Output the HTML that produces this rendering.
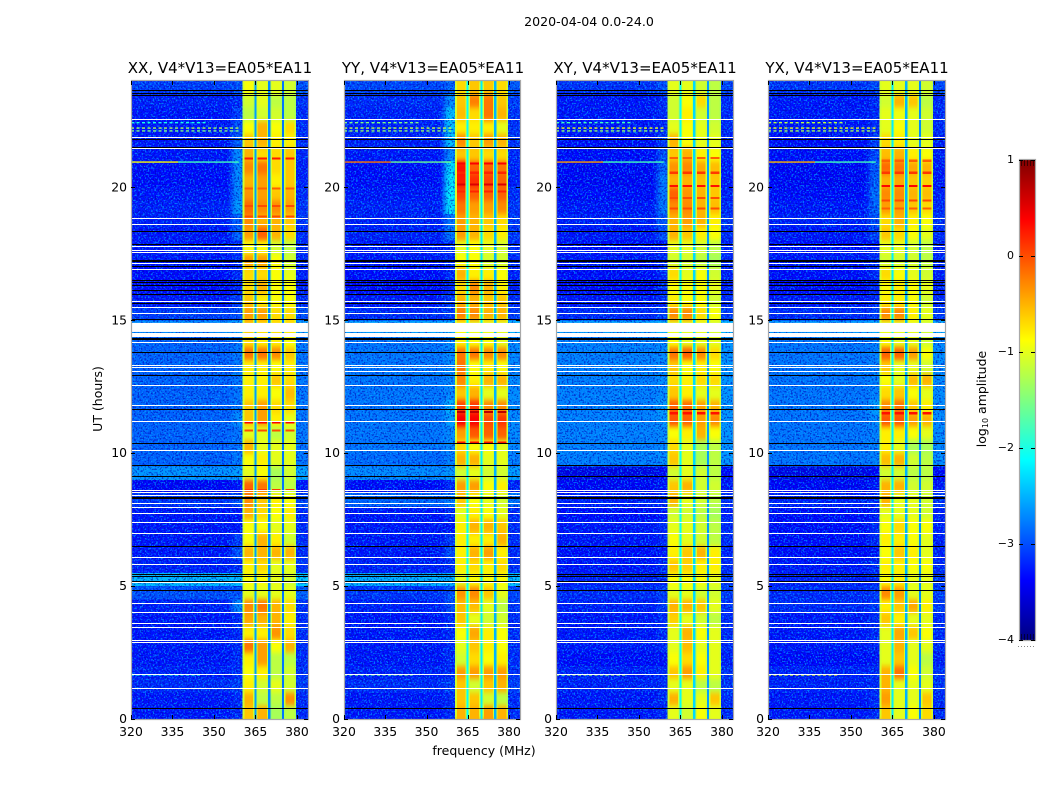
<!DOCTYPE html>
<html lang="en">
<head>
<meta charset="utf-8">
<title>2020-04-04 0.0-24.0</title>
<style>
html,body{margin:0;padding:0;background:#fff;width:1050px;height:800px;overflow:hidden}
svg{display:block}
text{font-family:"DejaVu Sans","Liberation Sans",sans-serif;fill:#000}
</style>
</head>
<body>
<svg id="figure" xmlns="http://www.w3.org/2000/svg" width="1050" height="800" viewBox="0 0 1050 800">
  <defs>
    <filter id="speck-light" x="0" y="0" width="100%" height="100%" color-interpolation-filters="sRGB">
      <feTurbulence type="fractalNoise" baseFrequency="0.62" numOctaves="1" seed="7"/>
      <feColorMatrix type="matrix" values="0 0 0 0 0  0 0 0 0 0.68  0 0 0 0 1  8 0 0 0 -4.2"/>
    </filter>
    <filter id="speck-dark" x="0" y="0" width="100%" height="100%" color-interpolation-filters="sRGB">
      <feTurbulence type="fractalNoise" baseFrequency="0.58" numOctaves="1" seed="23"/>
      <feColorMatrix type="matrix" values="0 0 0 0 0  0 0 0 0 0  0 0 0 0 0.7  0 8 0 0 -4.2"/>
    </filter>
    <filter id="blur-vertical" x="-5%" y="-5%" width="110%" height="110%" color-interpolation-filters="sRGB">
      <feGaussianBlur stdDeviation="0.2 2.6"/>
    </filter>
    <filter id="blur-horizontal" x="-30%" y="-5%" width="160%" height="110%" color-interpolation-filters="sRGB">
      <feGaussianBlur stdDeviation="3 0.3"/>
    </filter>
    <linearGradient id="jet-gradient" x1="0" y1="1" x2="0" y2="0"></linearGradient>
  </defs>
  <rect x="0" y="0" width="1050" height="800" fill="#fff"/>
  <g id="panels"></g>
  <text x="589" y="26" font-size="12.6" text-anchor="middle">2020-04-04 0.0-24.0</text>
  <text x="220" y="73" font-size="15" text-anchor="middle">XX, V4*V13=EA05*EA11</text>
  <text x="433" y="73" font-size="15" text-anchor="middle">YY, V4*V13=EA05*EA11</text>
  <text x="645" y="73" font-size="15" text-anchor="middle">XY, V4*V13=EA05*EA11</text>
  <text x="857" y="73" font-size="15" text-anchor="middle">YX, V4*V13=EA05*EA11</text>
  <text transform="translate(102,399) rotate(-90)" font-size="12.5" text-anchor="middle">UT (hours)</text>
  <text x="484" y="755" font-size="12.5" text-anchor="middle">frequency (MHz)</text>
  <text transform="translate(986,399) rotate(-90)" font-size="12.5" text-anchor="middle">log<tspan font-size="8" dy="2">10</tspan><tspan dy="-2"> amplitude</tspan></text>
  <g id="colorbar"></g>
</svg>
<script>
// ---- axis tick labels ----
const freqTicks = [320, 335, 350, 365, 380];
const utTicks = [0, 5, 10, 15, 20];
const colorTicks = [1, 0, -1, -2, -3, -4];
const colorTickLabels = ["1", "0", "\u22121", "\u22122", "\u22123", "\u22124"];

// ---- frequency layout of the spectrogram (MHz) ----
const bandStart = [360.4, 365.2, 370.3, 375.3];
const bandEnd = [364.7, 369.7, 374.7, 379.7];
const gapStart = [364.6, 369.6, 374.6];
const gapEnd = [365.3, 370.4, 375.4];

// ---- flagged integrations, UT hours (shared by all panels) ----
const whiteRows = [22.58, 21.91, 21.48, 18.84, 18.63, 17.81, 17.66, 17.57, 17.14, 16.92, 15.73, 15.49, 15.29, 14.17, 13.33, 13.23, 13.08, 12.58, 11.80, 11.20, 10.13, 8.63, 8.53, 8.44, 8.11, 7.99, 7.75, 7.40, 6.99, 6.08, 5.84, 5.14, 4.35, 4.01, 3.61, 3.47, 2.98, 2.89, 1.70, 1.16];
const whiteSpanFrom = [14.56, 14.37];
const whiteSpanTo = [14.90, 14.52];
const blackRows = [23.65, 23.53, 23.49, 21.81, 21.51, 18.35, 17.88, 17.27, 17.22, 17.03, 16.52, 16.44, 16.32, 16.15, 16.0, 15.64, 15.06, 14.33, 14.28, 13.80, 12.93, 11.67, 10.38, 9.54, 9.13, 8.35, 8.30, 6.50, 5.47, 5.37, 5.20, 4.84, 0.40];

// ---- narrow-band RFI rows ----
const rfiT = [20.95, 20.95, 22.43, 22.23, 22.12, 1.66];
const rfiFrom = [320, 337, 320, 320, 320, 320];
const rfiTo = [337, 359, 348, 359, 359, 345];
const xxRfi = [-0.9, -1.8, -2.0, -1.3, -1.5, -2.0];
const yyRfi = [-0.2, -1.6, -1.5, -1.2, -1.4, -1.6];
const xyRfi = [-0.4, -1.8, -1.8, -1.0, -1.4, -1.4];
const yxRfi = [-0.5, -1.8, -1.2, -1.0, -1.3, -1.0];

// ---- log10 amplitude in half-hour bins, index 0 = 0.0-0.5 UT ----
const xxBackground = [-3.1,-3.1,-3.0,-3.05,-3.1,-3.1,-3.1,-3.1,-3.05,-2.8,-2.25,-3.05,-3.1,-3.1,-3.1,-3.1,-2.95,-3.2,-2.45,-2.7,-2.7,-2.7,-2.7,-2.7,-2.7,-2.7,-2.7,-2.7,-2.7,-2.5,-2.9,-3.1,-3.15,-3.15,-3.1,-3.1,-3.1,-3.05,-3.05,-3.1,-3.15,-3.15,-3.1,-3.1,-3.1,-3.1,-3.05,-2.9];
const yyBackground = [-3.1,-3.1,-3.0,-3.05,-3.1,-3.1,-3.1,-3.1,-3.05,-2.95,-2.3,-3.05,-3.1,-3.1,-3.1,-3.1,-2.7,-3.15,-2.5,-2.65,-2.6,-2.6,-2.6,-2.6,-2.6,-2.6,-2.6,-2.6,-2.6,-2.4,-3.0,-3.1,-3.15,-3.15,-3.1,-3.1,-3.05,-3.05,-3.05,-3.1,-3.15,-3.15,-3.1,-3.05,-3.05,-3.05,-3.0,-2.85];
const xyBackground = [-3.1,-3.1,-3.05,-3.05,-3.15,-3.1,-3.1,-3.1,-3.05,-3.0,-3.05,-3.1,-3.15,-3.1,-3.1,-3.15,-3.05,-3.2,-3.3,-2.55,-2.55,-2.55,-2.55,-2.55,-2.55,-2.55,-2.55,-2.55,-2.55,-2.4,-3.0,-3.1,-3.15,-3.15,-3.1,-3.15,-3.1,-3.05,-3.1,-3.15,-3.2,-3.2,-3.15,-3.15,-3.1,-3.1,-3.1,-2.95];
const yxBackground = [-3.1,-3.1,-3.05,-3.05,-3.15,-3.1,-3.1,-3.1,-3.0,-3.0,-3.05,-3.1,-3.15,-3.15,-3.15,-3.15,-3.05,-3.2,-3.3,-2.6,-2.6,-2.6,-2.6,-2.6,-2.6,-2.6,-2.6,-2.6,-2.6,-2.45,-3.0,-3.1,-3.15,-3.15,-3.1,-3.15,-3.1,-3.05,-3.1,-3.15,-3.2,-3.2,-3.15,-3.15,-3.1,-3.1,-3.1,-2.95];

const xxEdge = [-3.0,-3.0,-2.9,-3.0,-3.0,-3.0,-3.0,-3.0,-2.5,-2.8,-2.25,-3.0,-2.8,-2.9,-3.1,-3.1,-2.8,-3.1,-2.4,-2.6,-2.6,-2.6,-2.5,-2.6,-2.6,-2.6,-2.6,-2.6,-2.6,-2.4,-2.8,-2.9,-3.0,-3.0,-3.0,-3.0,-2.7,-2.7,-2.4,-2.5,-2.5,-2.5,-2.5,-2.7,-2.8,-2.9,-3.0,-2.8];
const yyEdge = [-3.0,-3.0,-2.9,-3.0,-3.0,-3.0,-3.0,-3.0,-2.8,-2.8,-2.3,-3.0,-2.8,-2.9,-3.1,-3.0,-2.6,-3.0,-2.45,-2.55,-2.5,-2.5,-2.4,-2.3,-2.5,-2.5,-2.5,-2.5,-2.5,-2.3,-2.9,-2.9,-3.0,-3.0,-3.0,-3.0,-2.6,-2.6,-2.0,-1.95,-2.0,-2.05,-2.5,-2.2,-2.2,-2.2,-2.5,-2.7];
const xyEdge = [-3.0,-3.0,-3.0,-3.0,-3.1,-3.0,-3.0,-3.0,-2.9,-2.9,-3.0,-3.0,-3.1,-3.0,-3.0,-3.1,-3.0,-3.1,-3.2,-2.5,-2.5,-2.5,-2.45,-2.4,-2.5,-2.5,-2.5,-2.5,-2.5,-2.3,-2.9,-3.0,-3.0,-3.0,-3.0,-3.1,-2.8,-2.75,-2.6,-2.6,-2.6,-2.7,-2.8,-2.9,-3.0,-3.0,-3.0,-2.8];
const yxEdge = [-3.0,-3.0,-3.0,-3.0,-3.1,-3.0,-3.0,-3.0,-2.95,-2.9,-3.0,-3.0,-3.1,-3.0,-3.0,-3.1,-3.0,-3.1,-3.2,-2.55,-2.55,-2.55,-2.5,-2.4,-2.55,-2.55,-2.55,-2.55,-2.55,-2.35,-2.9,-3.0,-3.0,-3.0,-3.0,-3.1,-2.85,-2.8,-2.7,-2.65,-2.7,-2.75,-2.85,-2.9,-3.0,-3.0,-3.0,-2.85];

const xxBands = [[-0.6,-0.5,-1.3,-1.2],[-0.5,-1.2,-1.2,-0.35],[-0.8,-1.1,-1.0,-1.1],[-0.9,-0.8,-1.2,-1.1],[-0.8,-0.4,-1.2,-1.2],[-0.2,-0.4,-0.9,-0.5],[-0.8,-0.8,-0.35,-0.7],[-0.45,-0.5,-0.5,-0.8],[-0.3,-0.2,-0.5,-0.7],[-1.0,-1.0,-1.0,-1.0],[-0.9,-0.9,-1.0,-1.1],[-0.8,-0.7,-1.0,-1.0],[-0.5,-0.5,-0.5,-0.5],[-0.9,-0.5,-0.8,-1.1],[-0.9,-0.9,-1.0,-1.0],[-0.5,-0.7,-0.9,-0.8],[-0.3,-0.6,-0.8,-0.9],[-0.1,-0.2,-1.2,-1.2],[-1.0,-0.9,-1.3,-1.1],[-0.9,-0.8,-1.0,-1.0],[-0.5,-1.0,-1.0,-1.0],[-1.0,-1.0,-1.2,-1.1],[-0.6,-0.4,-0.8,-1.0],[-0.6,-0.4,-0.7,-0.7],[-0.8,-0.8,-0.9,-0.55],[-0.8,-0.8,-0.6,-0.7],[-0.8,-0.8,-0.9,-0.8],[-0.2,-0.2,-0.3,-0.6],[-0.7,-0.8,-0.8,-0.9],[-0.6,-0.7,-0.7,-0.7],[-0.4,-0.4,-0.7,-0.7],[-0.6,-0.8,-0.9,-0.9],[-0.7,-0.5,-0.9,-0.9],[-0.7,-0.7,-0.9,-1.0],[-0.4,-0.4,-0.9,-1.1],[-0.9,-0.9,-1.1,-1.2],[-0.4,-0.1,-0.5,-0.7],[-0.3,-0.5,-0.5,-0.6],[-0.15,-0.3,-0.3,-0.4],[-0.35,-0.4,-0.6,-0.5],[-0.5,-0.4,-0.8,-0.6],[-0.3,-0.2,-0.7,-0.6],[-0.5,-0.7,-0.7,-0.6],[-0.6,-0.5,-0.8,-0.8],[-0.9,-0.5,-0.9,-0.7],[-1.2,-1.1,-1.1,-1.2],[-1.1,-1.0,-1.2,-1.2],[-0.9,-1.0,-1.0,-1.1]];
const yyBands = [[-0.5,-0.5,-0.4,-0.5],[-0.6,-0.6,-1.1,-1.2],[-0.6,-1.1,-0.6,-0.5],[-0.4,-0.4,-0.4,-0.4],[-1.1,-0.7,-0.9,-0.8],[-1.0,-0.6,-0.8,-0.9],[-0.9,-0.45,-0.8,-0.9],[-0.6,-1.0,-1.1,-1.1],[-0.55,-0.55,-1.0,-1.2],[-0.35,-0.3,-0.6,-1.0],[-1.0,-0.9,-0.9,-0.9],[-0.8,-0.7,-0.8,-0.7],[-0.8,-0.5,-0.4,-0.8],[-0.8,-0.8,-0.8,-0.5],[-0.8,-0.5,-0.5,-0.6],[-1.0,-0.8,-0.9,-1.0],[-0.6,-0.9,-1.0,-1.1],[-0.4,-0.4,-0.9,-0.8],[-1.1,-1.0,-1.1,-1.1],[-0.5,-0.5,-1.0,-1.0],[-0.7,-0.9,-0.9,-1.0],[-0.4,-0.05,-0.1,-0.1],[0.4,0.4,0.0,0.1],[0.05,0.1,-0.3,-0.3],[-0.6,-0.5,-1.0,-1.0],[-0.3,-0.8,-0.5,-0.5],[-0.2,-0.9,-0.8,-0.9],[-0.2,-0.2,-0.3,-0.3],[-0.8,-0.9,-0.9,-1.0],[-0.9,-1.0,-1.0,-1.0],[-0.25,-0.3,-0.5,-0.5],[-0.5,-0.5,-0.6,-0.6],[-0.7,-0.3,-0.5,-0.8],[-0.5,-0.8,-0.8,-0.9],[-0.9,-0.9,-1.1,-1.1],[-1.0,-0.9,-1.0,-1.1],[-0.4,-0.5,-0.7,-0.8],[-0.4,-0.5,-0.6,-0.7],[-0.2,-0.4,-0.4,-0.3],[0.05,-0.1,-0.1,-0.1],[0.25,0.15,0.05,-0.1],[0.3,-0.1,-0.1,-0.2],[-0.6,-0.6,-0.7,-0.7],[-0.3,-0.6,-0.4,-0.5],[-0.8,-0.8,-0.8,-1.0],[-0.55,-0.7,-0.2,-0.5],[-0.6,-0.25,-0.2,-0.6],[-0.7,-0.6,-0.6,-0.7]];
const xyBands = [[-1.0,-1.1,-0.9,-1.0],[-0.5,-1.0,-1.0,-0.6],[-1.0,-1.0,-1.2,-1.2],[-0.6,-0.4,-0.8,-1.0],[-0.9,-0.7,-0.9,-1.0],[-1.0,-0.55,-1.0,-1.0],[-1.0,-0.5,-0.9,-1.0],[-0.65,-1.0,-1.1,-1.2],[-0.5,-0.5,-0.6,-1.0],[-1.0,-1.0,-1.1,-1.1],[-0.9,-0.9,-0.9,-1.0],[-0.6,-0.65,-0.8,-0.8],[-0.8,-0.6,-0.5,-0.8],[-0.9,-1.0,-1.1,-1.2],[-1.0,-1.0,-1.1,-1.2],[-1.1,-1.1,-1.2,-1.3],[-0.5,-1.0,-1.1,-1.2],[-0.6,-0.5,-1.1,-1.1],[-1.1,-1.0,-1.1,-1.2],[-0.6,-1.0,-1.3,-1.2],[-0.7,-1.0,-1.3,-1.2],[-0.9,-0.8,-0.5,-0.9],[-0.05,-0.1,-0.4,-0.3],[-0.1,-0.15,-0.4,-0.5],[-0.6,-0.8,-1.0,-1.0],[-0.7,-0.8,-0.7,-0.7],[-0.6,-0.9,-0.8,-0.9],[-0.2,-0.1,-0.3,-0.7],[-0.9,-1.0,-1.0,-1.0],[-1.0,-1.0,-1.0,-1.1],[-0.3,-0.3,-0.7,-0.9],[-0.8,-0.9,-0.9,-1.1],[-0.9,-0.9,-0.9,-1.0],[-0.7,-1.0,-0.9,-1.1],[-1.1,-1.1,-1.2,-1.3],[-1.0,-1.0,-1.1,-1.2],[-0.5,-0.6,-0.8,-0.9],[-0.5,-0.4,-0.5,-0.8],[-0.3,-0.3,-0.5,-0.55],[-0.1,-0.35,-0.5,-0.6],[-0.5,-0.5,-0.55,-0.6],[-0.35,-0.3,-0.45,-0.55],[-0.6,-0.5,-0.8,-0.9],[-0.5,-0.9,-1.0,-1.0],[-1.0,-0.9,-1.0,-1.1],[-1.1,-0.8,-1.1,-1.2],[-1.1,-0.9,-0.7,-1.2],[-1.0,-1.0,-1.1,-1.2]];
const yxBands = [[-0.6,-1.0,-0.9,-0.7],[-0.4,-1.0,-1.0,-0.6],[-0.5,-1.0,-1.0,-1.0],[-0.5,-0.2,-0.9,-1.1],[-1.0,-0.6,-1.0,-1.2],[-1.0,-0.5,-1.0,-1.0],[-1.0,-0.45,-0.6,-0.9],[-0.6,-0.8,-1.0,-1.0],[-0.8,-0.6,-0.45,-0.8],[-0.3,-0.4,-1.0,-1.0],[-0.9,-0.8,-1.0,-1.0],[-0.8,-0.8,-0.9,-0.9],[-0.9,-0.6,-0.8,-1.0],[-0.8,-0.8,-0.9,-1.0],[-0.9,-0.7,-0.9,-0.9],[-1.0,-1.0,-1.0,-1.1],[-0.5,-1.0,-1.0,-1.1],[-0.5,-0.5,-1.1,-1.1],[-1.1,-1.1,-1.2,-1.2],[-0.55,-0.5,-1.1,-1.2],[-0.8,-1.0,-1.3,-1.3],[-0.8,-0.8,-0.9,-1.0],[-0.05,-0.05,-0.4,-0.5],[-0.3,-0.2,-0.6,-0.8],[-0.7,-0.6,-0.9,-1.0],[-0.9,-1.0,-0.55,-0.5],[-0.6,-1.0,-1.0,-1.1],[-0.1,-0.1,-0.4,-0.9],[-0.9,-1.0,-1.0,-1.1],[-1.0,-1.0,-1.0,-1.1],[-0.3,-0.3,-0.8,-1.0],[-0.8,-0.8,-0.9,-1.1],[-0.9,-0.8,-0.9,-1.0],[-0.7,-0.9,-1.0,-1.1],[-1.1,-1.1,-1.1,-1.2],[-1.0,-1.0,-1.1,-1.2],[-0.6,-0.7,-0.9,-1.0],[-0.7,-0.5,-0.8,-0.9],[-0.4,-0.4,-0.6,-0.7],[-0.3,-0.3,-0.5,-0.55],[-0.5,-0.45,-0.6,-0.65],[-0.15,-0.2,-0.45,-0.5],[-0.55,-0.5,-0.8,-0.9],[-0.7,-0.8,-1.0,-1.0],[-1.0,-0.9,-1.0,-1.1],[-1.0,-0.95,-1.0,-1.1],[-1.1,-0.5,-0.6,-1.2],[-1.0,-1.0,-1.0,-1.1]];

// gaps between sub-bands
const xxGaps = [-2.6, -2.7, -2.8];
const yyGaps = [-2.1, -2.2, -2.5];
const xyGaps = [-2.1, -2.3, -2.6];
const yxGaps = [-2.2, -2.5, -2.7];

// thin bright scans over the bands
const xxStripeT = [21.09, 19.96, 19.3, 18.9, 11.15, 10.85, 8.62];
const xxStripeV = [0.25, -0.1, 0.0, 0.0, 0.4, 0.0, 0.1];
const yyStripeT = [20.9, 20.55, 20.1, 19.85, 11.55, 10.4];
const yyStripeV = [0.4, 0.2, 0.55, 0.2, 0.7, 0.3];
const xyStripeT = [21.1, 20.55, 20.05, 19.6, 19.2, 11.5];
const xyStripeV = [-0.1, 0.1, 0.3, 0.0, 0.0, 0.3];
const yxStripeT = [21.0, 20.55, 20.05, 19.5, 19.2, 11.5];
const yxStripeV = [-0.1, 0.1, 0.35, 0.0, -0.1, 0.3];

// panel names
const panelNames = ["xx", "yy", "xy", "yx"];
const panelBackground = [xxBackground, yyBackground, xyBackground, yxBackground];
const panelEdge = [xxEdge, yyEdge, xyEdge, yxEdge];
const panelBands = [xxBands, yyBands, xyBands, yxBands];
const panelGaps = [xxGaps, yyGaps, xyGaps, yxGaps];
const panelStripeT = [xxStripeT, yyStripeT, xyStripeT, yxStripeT];
const panelStripeV = [xxStripeV, yyStripeV, xyStripeV, yxStripeV];
const panelRfi = [xxRfi, yyRfi, xyRfi, yxRfi];

// ---- scales and rendering ----
const SVGNS = "http://www.w3.org/2000/svg";
const plotTop = 81, plotBottom = 719;
const plotLefts = [131, 344, 556, 768];
const plotWidths = [177, 176, 177, 177];
const freqMin = 320, freqMax = 384, utMax = 24, binHours = 0.5;
const backgroundOffset = -0.2;
const cbarLeft = 1019, cbarWidth = 16, cbarTop = 160, cbarBottom = 640;

function yScale(t) { return plotBottom - (t / utMax) * (plotBottom - plotTop); }
function clamp01(x) { return Math.max(0, Math.min(1, x)); }
function jet(v) {
  const t = clamp01((v + 4) / 5);
  const r = clamp01(Math.min(4 * t - 1.5, -4 * t + 4.5));
  const g = clamp01(Math.min(4 * t - 0.5, -4 * t + 3.5));
  const b = clamp01(Math.min(4 * t + 0.5, -4 * t + 2.5));
  return "rgb(" + Math.round(r * 255) + "," + Math.round(g * 255) + "," + Math.round(b * 255) + ")";
}
function cbarScale(v) { return cbarBottom - (v + 4) / 5 * (cbarBottom - cbarTop); }
function svgEl(tag, attrs, parent) {
  const el = document.createElementNS(SVGNS, tag);
  for (const k in attrs) el.setAttribute(k, attrs[k]);
  parent.appendChild(el);
  return el;
}

const panelsRoot = document.getElementById("panels");
const defs = document.querySelector("defs");
panelNames.forEach(function (name, p) {
  const left = plotLefts[p], plotWidth = plotWidths[p];
  function xScale(f) { return left + (f - freqMin) / (freqMax - freqMin) * plotWidth; }
  function cell(parent, f0, f1, t0, t1, value) {
    const x0 = Math.round(xScale(f0) * 2) / 2, x1 = Math.round(xScale(f1) * 2) / 2;
    const y0 = yScale(t1), y1 = yScale(t0);
    const el = svgEl("rect", {x: x0, y: y0, width: x1 - x0, height: y1 - y0, fill: jet(value), "shape-rendering": "crispEdges"}, parent);
    
    
    return el;
  }

  const clip = svgEl("clipPath", {id: "clip-" + name}, defs);
  svgEl("rect", {x: left, y: plotTop, width: plotWidth, height: plotBottom - plotTop}, clip);

  const g = svgEl("g", {}, panelsRoot);
  
  
  const heat = svgEl("g", {"clip-path": "url(#clip-" + name + ")"}, g);
  
  
  const bgGroup = svgEl("g", {}, heat);
  
  
  const edgeGroup = svgEl("g", {filter: "url(#blur-horizontal)"}, heat);
  
  

  const bg = panelBackground[p], edge = panelEdge[p], bands = panelBands[p], gaps = panelGaps[p];
  for (let k = 0; k < bg.length; k++) {
    const t0 = k * binHours, t1 = (k + 1) * binHours;
    cell(bgGroup, freqMin, bandStart[0], t0, t1, bg[k] + backgroundOffset);
    cell(bgGroup, bandEnd[3], freqMax, t0, t1, bg[k] + backgroundOffset + 0.1);
    cell(edgeGroup, 356.5, bandStart[0] + 1, t0, t1, edge[k] + backgroundOffset);
  }

  // speckle texture over the off-band channels
  [[freqMin, bandStart[0]], [bandEnd[3], freqMax]].forEach(function (range) {
    const x0 = xScale(range[0]), x1 = xScale(range[1]);
    const n1 = svgEl("rect", {x: x0, y: plotTop, width: x1 - x0, height: plotBottom - plotTop, filter: "url(#speck-light)", opacity: 0.65}, heat);
    
    
    const n2 = svgEl("rect", {x: x0, y: plotTop, width: x1 - x0, height: plotBottom - plotTop, filter: "url(#speck-dark)", opacity: 0.55}, heat);
    
    
  });

  // sub-bands, softened along time
  const bandGroup = svgEl("g", {filter: "url(#blur-vertical)"}, heat);
  
  
  for (let k = 0; k < bg.length; k++) {
    const t0 = k * binHours, t1 = (k + 1) * binHours;
    bandStart.forEach(function (s, b) {
      const e = bandEnd[b], v = bands[k][b], margin = Math.min(v - 0.1, -1.1);
      cell(bandGroup, s, s + 0.6, t0, t1, margin);
      cell(bandGroup, s + 0.6, e - 0.6, t0, t1, v);
      cell(bandGroup, e - 0.6, e, t0, t1, margin);
    });
  }
  // extend the first and last bins so the time blur does not fade at the plot edges
  bandStart.forEach(function (s, b) {
    cell(bandGroup, s, bandEnd[b], -0.5, 0, bands[0][b]);
    cell(bandGroup, s, bandEnd[b], 24, 24.5, bands[bands.length - 1][b]);
  });
  for (let k = 0; k < bg.length; k++) {
    const t0 = k * binHours, t1 = (k + 1) * binHours;
    gapStart.forEach(function (s, b) { cell(heat, s, gapEnd[b], t0, t1, gaps[b]); });
  }

  // bright scans within the bands
  panelStripeT[p].forEach(function (t, i) {
    bandStart.forEach(function (s, b) {
      const st = cell(heat, s + 0.6, bandEnd[b] - 0.6, t - 0.04, t + 0.04, panelStripeV[p][i]);
      
    });
  });

  // RFI rows (the brightest one is continuous, the others are broken)
  rfiT.forEach(function (t, i) {
    const y = yScale(t);
    const r = svgEl("line", {x1: xScale(rfiFrom[i]), x2: xScale(rfiTo[i]), y1: y, y2: y, stroke: jet(panelRfi[p][i]), "stroke-width": 1.4, "stroke-dasharray": i < 2 ? "none" : "3 2.5"}, heat);
    
    
  });

  // flagged rows
  const xL = left + 1, xW = plotWidth - 1;
  whiteRows.forEach(function (t) {
    const r = svgEl("rect", {x: xL, y: Math.round(yScale(t)), width: xW, height: 1, fill: "#fff", "shape-rendering": "crispEdges"}, g);
    
    
  });
  whiteSpanFrom.forEach(function (t, i) {
    const r = svgEl("rect", {x: xL, y: yScale(whiteSpanTo[i]), width: xW, height: yScale(t) - yScale(whiteSpanTo[i]), fill: "#fff"}, g);
    
    
  });
  blackRows.forEach(function (t) {
    const r = svgEl("rect", {x: xL, y: Math.round(yScale(t)), width: xW, height: 1, fill: "#000", "shape-rendering": "crispEdges"}, g);
    
    
  });

  // axes frame
  const frame = svgEl("rect", {x: left + 0.5, y: plotTop - 0.5, width: plotWidth, height: plotBottom - plotTop + 1, fill: "none", stroke: "#a8a8a8", "stroke-width": 1.2}, g);
  
  

  // ticks and tick labels
  freqTicks.forEach(function (f) {
    const x = Math.round(xScale(f)) + 0.5;
    const tb = svgEl("line", {x1: x, x2: x, y1: plotBottom, y2: plotBottom - 4, stroke: "#000", "stroke-width": 1}, g);
    
    
    const tt = svgEl("line", {x1: x, x2: x, y1: plotTop, y2: plotTop + 4, stroke: "#000", "stroke-width": 1}, g);
    
    
    const lab = svgEl("text", {x: xScale(f), y: 736, "font-size": 12.4, "text-anchor": "middle"}, g);
    
    
    lab.textContent = String(f);
  });
  utTicks.forEach(function (t) {
    const y = Math.round(yScale(t)) + 0.5;
    const tl = svgEl("line", {x1: left, x2: left + 4, y1: y, y2: y, stroke: "#000", "stroke-width": 1}, g);
    
    
    const tr = svgEl("line", {x1: left + plotWidth, x2: left + plotWidth - 4, y1: y, y2: y, stroke: "#000", "stroke-width": 1}, g);
    
    
    const lab = svgEl("text", {x: left - 4, y: yScale(t) + 4, "font-size": 12.4, "text-anchor": "end"}, g);
    
    
    lab.textContent = String(t);
  });
});

// ---- colorbar ----
const grad = document.getElementById("jet-gradient");
for (let i = 0; i <= 40; i++) {
  svgEl("stop", {offset: (i / 40), "stop-color": jet(-4 + 5 * i / 40)}, grad);
}
const cb = document.getElementById("colorbar");
const cbRect = svgEl("rect", {x: cbarLeft + 0.5, y: cbarTop - 0.5, width: cbarWidth, height: cbarBottom - cbarTop + 1, fill: "url(#jet-gradient)", stroke: "#a8a8a8", "stroke-width": 1.2}, cb);


colorTicks.forEach(function (v, i) {
  const y = Math.round(cbarScale(v)) + 0.5;
  const a = svgEl("line", {x1: cbarLeft, x2: cbarLeft + 4, y1: y, y2: y, stroke: "#000", "stroke-width": 1}, cb);
  
  
  const b = svgEl("line", {x1: cbarLeft + cbarWidth - 4, x2: cbarLeft + cbarWidth, y1: y, y2: y, stroke: "#000", "stroke-width": 1}, cb);
  
  
  const lab = svgEl("text", {x: cbarLeft - 5, y: cbarScale(v) + 3, "font-size": 11, "text-anchor": "end"}, cb);
  
  
  lab.textContent = colorTickLabels[i];
});
[cbarTop, cbarBottom - 6].forEach(function (y0) {
  for (let j = 0; j < 5; j++) {
    const x = cbarLeft + 2.5 + j * 3;
    const m = svgEl("line", {x1: x, x2: x, y1: y0, y2: y0 + 6, stroke: "#000", "stroke-width": 0.8, opacity: 0.7}, cb);
    
    
  }
});
for (let j = 0; j < 6; j++) {
  const d = svgEl("rect", {x: cbarLeft - 1 + j * 3, y: 646, width: 1, height: 1, fill: "#888"}, cb);
  
  
}
</script>
</body>
</html>
